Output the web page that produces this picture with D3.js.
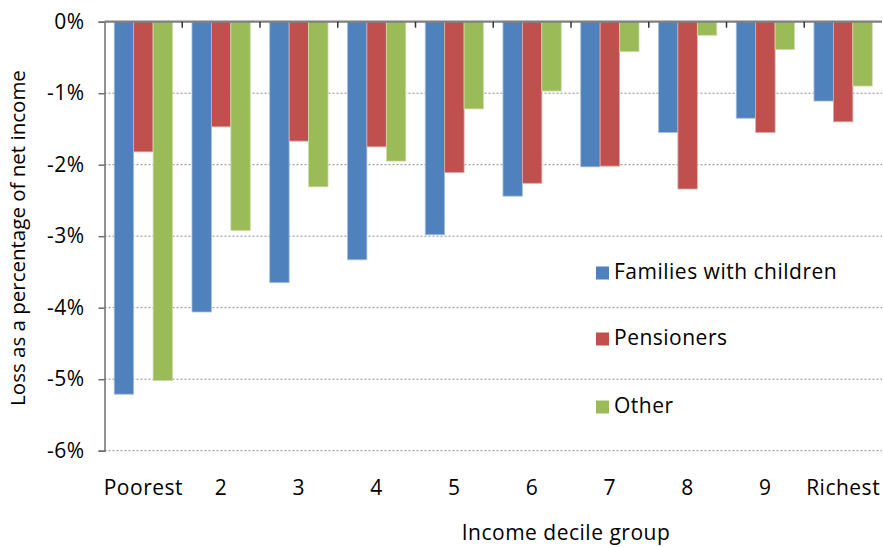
<!DOCTYPE html>
<html>
<head>
<meta charset="utf-8">
<script src="https://cdn.jsdelivr.net/npm/d3@7"></script>
<style>
  body { margin: 0; background: #fff; }
  svg { display: block; font-family: "Open Sans", "Noto Sans", sans-serif; }
</style>
</head>
<body>
<svg id="chart" width="883" height="547"></svg>
<script>
const categories = ["Poorest", "2", "3", "4", "5", "6", "7", "8", "9", "Richest"];
const seriesNames = ["Families with children", "Pensioners", "Other"];
const families = [-5.21, -4.06, -3.65, -3.33, -2.98, -2.44, -2.03, -1.55, -1.35, -1.11];
const pensioners = [-1.82, -1.47, -1.67, -1.75, -2.11, -2.26, -2.02, -2.34, -1.55, -1.40];
const other = [-5.02, -2.92, -2.31, -1.95, -1.22, -0.97, -0.42, -0.19, -0.39, -0.90];
const yTicks = [0, -1, -2, -3, -4, -5, -6];
const colors = ["#4F81BD", "#C0504D", "#9BBB59"];
const strokes = ["#A7C0DE", "#E0A8A6", "#CDDDAC"];

const seriesValues = [families, pensioners, other];

const svg = d3.select("#chart");
const pLeft = 104.5, pRight = 882, pTop = 21.7, pBottom = 450.7;
const FS = 21, LS = "0.5px";

const x = d3.scaleBand().domain(categories).range([pLeft, pRight]).padding(0);
const bw = x.bandwidth();
const x1 = d3.scaleBand().domain(seriesNames).range([bw * 0.125, bw * 0.875]).padding(0);
const y = d3.scaleLinear().domain([0, -6]).range([pTop, pBottom]);

// gridlines
svg.append("g").selectAll("line").data(yTicks.filter(d => d !== 0)).join("line")
  .attr("x1", pLeft).attr("x2", pRight)
  .attr("y1", d => y(d)).attr("y2", d => y(d))
  .attr("stroke", "#8c8c8c").attr("stroke-width", 1)
  .attr("stroke-dasharray", "2,2");

// bars
const groups = svg.append("g").selectAll("g").data(categories).join("g")
  .attr("transform", d => `translate(${x(d)},0)`);
groups.selectAll("rect").data((c, i) => seriesNames.map((s, j) => ({ s, j, v: seriesValues[j][i] })))
  .join("rect")
  .attr("x", d => x1(d.s))
  .attr("width", x1.bandwidth())
  .attr("y", y(0))
  .attr("height", d => y(d.v) - y(0))
  .attr("fill", d => colors[d.j])
  .attr("stroke", d => strokes[d.j])
  .attr("stroke-width", 0.8);

// y axis
const yAxis = d3.axisLeft(y).tickValues(yTicks).tickSize(6).tickPadding(14);
const gy = svg.append("g").attr("transform", `translate(${pLeft},0)`).call(yAxis);
gy.select(".domain").attr("stroke", "#6e6e6e").attr("stroke-width", 1.5);
gy.selectAll(".tick line").attr("stroke", "#6e6e6e").attr("stroke-width", 1.5);
gy.selectAll(".tick text").attr("font-size", FS).attr("fill", "#000")
  .attr("letter-spacing", LS)
  .attr("font-family", "\"Open Sans\", \"Noto Sans\", sans-serif")
  .text(d => (d < 0 ? "-" + Math.abs(d) : d) + "%");

// x axis at zero line, ticks at band boundaries pointing down
const gx = svg.append("g");
gx.append("line").attr("x1", pLeft).attr("x2", pRight).attr("y1", y(0)).attr("y2", y(0))
  .attr("stroke", "#7f7f7f").attr("stroke-width", 2.2);
gx.selectAll("line.tk").data(categories.slice(1)).join("line").attr("class", "tk")
  .attr("x1", d => x(d)).attr("x2", d => x(d))
  .attr("y1", y(0)).attr("y2", y(0) + 6)
  .attr("stroke", "#333").attr("stroke-width", 1.5);

// category labels
svg.append("g").selectAll("text").data(categories).join("text")
  .attr("x", d => x(d) + bw / 2).attr("y", 489)
  .attr("text-anchor", "middle").attr("dominant-baseline", "middle")
  .attr("font-size", FS).attr("letter-spacing", LS).attr("fill", "#000")
  .text(d => d);

// axis titles
svg.append("text").attr("x", 566).attr("y", 534)
  .attr("text-anchor", "middle").attr("dominant-baseline", "middle")
  .attr("font-size", FS).attr("letter-spacing", LS).attr("fill", "#000").text("Income decile group");
svg.append("text").attr("transform", "translate(20,238) rotate(-90)")
  .attr("text-anchor", "middle").attr("dominant-baseline", "middle")
  .attr("font-size", 20.5).attr("fill", "#000").text("Loss as a percentage of net income");

// legend
const legendY = [273, 339, 407];
const lg = svg.append("g").selectAll("g").data(seriesNames).join("g")
  .attr("transform", (d, i) => `translate(596,${legendY[i]})`);
lg.append("rect").attr("x", 0).attr("y", -6.5).attr("width", 13).attr("height", 13)
  .attr("fill", (d, i) => colors[i]);
lg.append("text").attr("x", 18).attr("y", 0).attr("dominant-baseline", "middle")
  .attr("font-size", FS).attr("letter-spacing", LS).attr("fill", "#000").text(d => d);
</script>
</body>
</html>
